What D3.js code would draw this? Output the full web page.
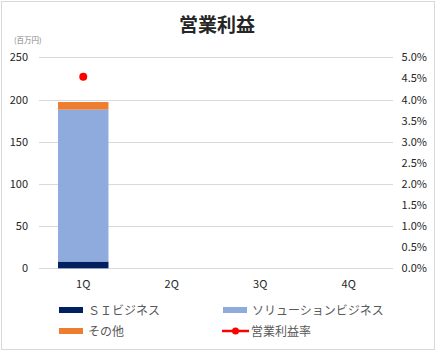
<!DOCTYPE html>
<html>
<head>
<meta charset="utf-8">
<script src="https://cdn.jsdelivr.net/npm/d3@7"></script>
<style>
  body { margin: 0; background: #fff; }
  svg { display: block; font-family: "Noto Sans CJK JP", "Noto Sans", sans-serif; }
</style>
</head>
<body>
<div id="chart"></div>
<script>
// Data
const quarters = ["1Q", "2Q", "3Q", "4Q"];
const siBusiness = [8, null, null, null];
const solutionBusiness = [180, null, null, null];
const otherBusiness = [9, null, null, null];
const profitRate = [4.54, null, null, null];
const leftTicks = [0, 50, 100, 150, 200, 250];
const rightTicks = [0, 0.5, 1, 1.5, 2, 2.5, 3, 3.5, 4, 4.5, 5];

const width = 436, height = 351;
const plot = { left: 39, right: 393, top: 57.3, bottom: 268.3 };

const svg = d3.select("#chart").append("svg")
    .attr("width", width).attr("height", height);

// Border
svg.append("rect").attr("x", 1.5).attr("y", 1.5).attr("width", width - 3).attr("height", height - 3)
    .attr("fill", "#fff").attr("stroke", "#d9d9d9").attr("stroke-width", 1);

// Title
svg.append("text").attr("x", 217).attr("y", 32).attr("text-anchor", "middle")
    .attr("font-size", "19px").attr("font-weight", "bold").attr("fill", "#262626").text("営業利益");

svg.append("text").attr("x", 14).attr("y", 43).attr("font-size", "7.5px").attr("fill", "#7f7f7f").text("(百万円)");

// Scales
const x = d3.scaleBand().domain(quarters).range([plot.left, plot.right]).paddingInner(0.43).paddingOuter(0.215);
const y = d3.scaleLinear().domain([0, 250]).range([plot.bottom, plot.top]);
const y2 = d3.scaleLinear().domain([0, 5]).range([plot.bottom, plot.top]);

// Gridlines
svg.append("g").selectAll("line").data(leftTicks).enter().append("line")
    .attr("x1", plot.left).attr("x2", plot.right)
    .attr("y1", d => Math.round(y(d)) + 0.5).attr("y2", d => Math.round(y(d)) + 0.5)
    .attr("stroke", "#d9d9d9").attr("stroke-width", 1);

// Left axis
svg.append("g").selectAll("text").data(leftTicks).enter().append("text")
    .attr("x", 28).attr("y", d => y(d) + 4).attr("text-anchor", "end")
    .attr("font-size", "11px").attr("fill", "#262626").text(d => d);

// Right axis
svg.append("g").selectAll("text").data(rightTicks).enter().append("text")
    .attr("x", 427).attr("y", d => y2(d) + 4).attr("text-anchor", "end")
    .attr("font-size", "11px").attr("fill", "#262626").text(d => d.toFixed(1) + "%");

// Category labels
svg.append("g").selectAll("text").data(quarters).enter().append("text")
    .attr("x", d => x(d) + x.bandwidth() / 2).attr("y", 288).attr("text-anchor", "middle")
    .attr("font-size", "11px").attr("fill", "#262626").text(d => d);

// Stacked bars
const seriesDefs = [
    { name: "ＳＩビジネス", values: siBusiness, color: "#002060" },
    { name: "ソリューションビジネス", values: solutionBusiness, color: "#8FAADC" },
    { name: "その他", values: otherBusiness, color: "#ED7D31" }
];
const rows = quarters.map((q, i) => {
    const r = { q };
    seriesDefs.forEach(s => r[s.name] = s.values[i] || 0);
    return r;
});
const stacked = d3.stack().keys(seriesDefs.map(s => s.name))(rows);
svg.append("g").selectAll("g").data(stacked).enter().append("g")
    .attr("fill", (d, i) => seriesDefs[i].color)
    .selectAll("rect").data(d => d.filter(p => p[1] > p[0])).enter().append("rect")
    .attr("x", d => x(d.data.q)).attr("width", x.bandwidth())
    .attr("y", d => y(d[1])).attr("height", d => y(d[0]) - y(d[1]));

// Profit rate markers
svg.append("g").selectAll("circle").data(quarters.map((q, i) => ({ q, v: profitRate[i] })).filter(d => d.v != null))
    .enter().append("circle")
    .attr("cx", d => x(d.q) + x.bandwidth() / 2).attr("cy", d => y2(d.v)).attr("r", 4)
    .attr("fill", "#FF0000");

// Legend
const legend = svg.append("g").attr("font-size", "12px").attr("fill", "#595959");
const legendItems = [
    { label: "ＳＩビジネス", color: "#002060", x: 59, y: 310, type: "bar" },
    { label: "ソリューションビジネス", color: "#8FAADC", x: 223, y: 310, type: "bar" },
    { label: "その他", color: "#ED7D31", x: 59, y: 331, type: "bar" },
    { label: "営業利益率", color: "#FF0000", x: 222, y: 331, type: "line" }
];
legendItems.forEach(d => {
    const g = legend.append("g");
    if (d.type === "bar") {
        g.append("rect").attr("x", d.x).attr("y", d.y - 3).attr("width", 24).attr("height", 6).attr("fill", d.color);
    } else {
        g.append("line").attr("x1", d.x).attr("x2", d.x + 27).attr("y1", d.y).attr("y2", d.y)
            .attr("stroke", d.color).attr("stroke-width", 2.5);
        g.append("circle").attr("cx", d.x + 13.5).attr("cy", d.y).attr("r", 3.5).attr("fill", d.color);
    }
    g.append("text").attr("x", d.x + 29).attr("y", d.y + 4.5).attr("fill", "#595959").text(d.label);
});
</script>
</body>
</html>
